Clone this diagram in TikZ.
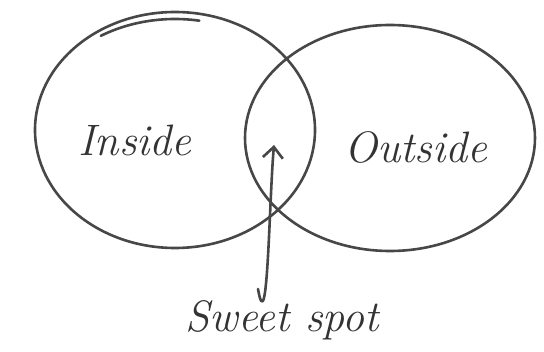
\documentclass[tikz,border=0pt]{standalone}
\usepackage{tikz}
\usetikzlibrary{arrows.meta}

\tikzset{
  pencil/.style={line width=2.6pt, black!72, line cap=round, line join=round},
  hand/.style={font=\fontsize{44}{50}\selectfont\itshape, black!80}
}

\begin{document}
\begin{tikzpicture}[x=1pt, y=-1pt]
\useasboundingbox (0,0) rectangle (544,352);

% Left circle, with the overlapping stroke at the top
\draw[pencil] (175,130) ellipse[x radius=140, y radius=118];
\draw[pencil] (175,130) ++(-80:140 and 111) arc[start angle=-80, end angle=-122, x radius=140, y radius=111];

% Right circle
\draw[pencil] (390,138) ellipse[x radius=145, y radius=113];

% Labels
\node[hand] (inside) at (135,140) {Inside};
\node[hand] (outside) at (416,147) {Outside};
\node[hand] (sweet) at (282,320) {Sweet spot};

% Arrow to the overlap
\coordinate (tail) at (258,289);
\coordinate (tip) at (274,145);
\draw[pencil, -{Straight Barb[length=11pt, width=20pt]}] (tail) to[out=-80, in=-95] (tip);

\end{tikzpicture}
\end{document}
